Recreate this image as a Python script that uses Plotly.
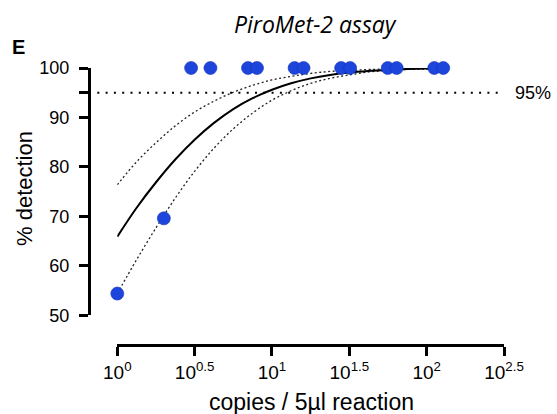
import plotly.graph_objects as go

# ---- data ----
det_x = [1, 2, 3, 4, 7, 8, 14, 16, 28, 32, 56, 64, 112, 128]
det_y = [54.4, 69.6, 100, 100, 100, 100, 100, 100, 100, 100, 100, 100, 100, 100]

curve_x = [1, 1.33, 1.78, 2.37, 3.16, 4.22, 5.62, 7.50, 10, 13.3, 17.8, 23.7,
           31.6, 42.2, 56.2, 75.0, 100, 128]
fit_y = [65.9, 71.7, 76.9, 81.5, 85.5, 88.9, 91.7, 93.9, 95.6, 96.9, 97.9, 98.6,
         99.1, 99.4, 99.6, 99.8, 99.9, 99.9]
upper_y = [76.4, 81.0, 84.9, 88.3, 91.1, 93.3, 95.1, 96.5, 97.6, 98.3, 98.9, 99.3,
           99.5, 99.7, 99.8, 99.9, 99.9, 100.0]
lower_y = [54.4, 61.2, 67.7, 73.7, 79.1, 83.8, 87.7, 90.9, 93.5, 95.4, 96.9, 97.9,
           98.6, 99.2, 99.5, 99.7, 99.8, 99.9]

x_tickvals = [1, 3.16228, 10, 31.6228, 100, 316.228]
x_ticktext = ["10<sup>0</sup>", "10<sup>0.5</sup>", "10<sup>1</sup>",
              "10<sup>1.5</sup>", "10<sup>2</sup>", "10<sup>2.5</sup>"]
y_tickvals = [50, 60, 70, 80, 90, 95, 100]
y_ticktext = ["50", "60", "70", "80", "90", "", "100"]
threshold = 95

FONT = "Liberation Sans"

W, H = 557, 414
L, R, T, B = 89, 53, 68, 70
pw, ph = W - L - R, H - T - B
def px_x(p):
    return (p - L) / pw
def px_y(p):
    return (H - B - p) / ph

fig = go.Figure()
# empty trace that only carries the x axis (anchored at the bottom of the plot area)
fig.add_trace(go.Scatter(x=[], y=[], xaxis="x", yaxis="y", showlegend=False,
                         hoverinfo="skip"))
for yy in (upper_y, lower_y):
    fig.add_trace(go.Scatter(x=curve_x, y=yy, mode="lines", line_shape="spline",
                             xaxis="x", yaxis="y2",
                             line=dict(color="#222", width=1.3, dash="2px,2.5px"),
                             hoverinfo="skip", showlegend=False))
fig.add_trace(go.Scatter(x=curve_x, y=fit_y, mode="lines", line_shape="spline",
                         xaxis="x", yaxis="y2",
                         line=dict(color="black", width=2), showlegend=False))
fig.add_trace(go.Scatter(x=det_x, y=det_y, mode="markers", cliponaxis=False,
                         xaxis="x", yaxis="y2",
                         marker=dict(color="#1d45db", size=13,
                                     line=dict(width=0.6, color="#1433b8")),
                         showlegend=False))

fig.add_shape(type="line", xref="paper", yref="y2", x0=0.0, x1=px_x(498),
              y0=threshold, y1=threshold,
              line=dict(color="black", width=2.2, dash="2px,6.3px"))

axis_common = dict(showline=True, linewidth=3, linecolor="black",
                   ticks="outside", ticklen=9, tickwidth=3, tickcolor="black",
                   showgrid=False, zeroline=False)

fig.update_layout(
    width=W, height=H, margin=dict(l=L, r=R, t=T, b=B),
    paper_bgcolor="white", plot_bgcolor="white",
    font=dict(family=FONT, color="black", size=18),
    xaxis=dict(type="log", range=[0, 2.5], domain=[px_x(117.3), 1], anchor="y",
               tickmode="array", tickvals=x_tickvals, ticktext=x_ticktext,
               tickfont=dict(family=FONT, size=19), ticklabelstandoff=0,
               **axis_common),
    yaxis=dict(range=[0, 1], domain=[0, 1], visible=False),
    yaxis2=dict(range=[50, 100], domain=[px_y(315.3), 1],
                anchor="free", position=0,
                tickmode="array", tickvals=y_tickvals, ticktext=y_ticktext,
                tickfont=dict(family=FONT, size=18), ticklabelstandoff=6,
                **axis_common),
    annotations=[
        dict(text="<i>PiroMet-2 assay</i>", xref="paper", yref="paper",
             x=px_x(315), y=px_y(24), xanchor="center", yanchor="middle",
             showarrow=False, font=dict(family="Open Sans", size=23)),
        dict(text="<b>E</b>", xref="paper", yref="paper",
             x=px_x(18), y=px_y(46.5), xanchor="center", yanchor="middle",
             showarrow=False, font=dict(family=FONT, size=20)),
        dict(text="95%", xref="paper", yref="y2", x=px_x(513), y=threshold,
             xanchor="left", yanchor="middle", showarrow=False,
             font=dict(family=FONT, size=18)),
        dict(text="% detection", xref="paper", yref="paper", textangle=-90,
             x=px_x(24), y=px_y(189), xanchor="center", yanchor="middle",
             showarrow=False, font=dict(family=FONT, size=22)),
        dict(text="copies / 5µl reaction", xref="paper", yref="paper",
             x=px_x(311), y=px_y(402), xanchor="center", yanchor="middle",
             showarrow=False, font=dict(family=FONT, size=23)),
    ],
)

fig.write_html("out.html")
